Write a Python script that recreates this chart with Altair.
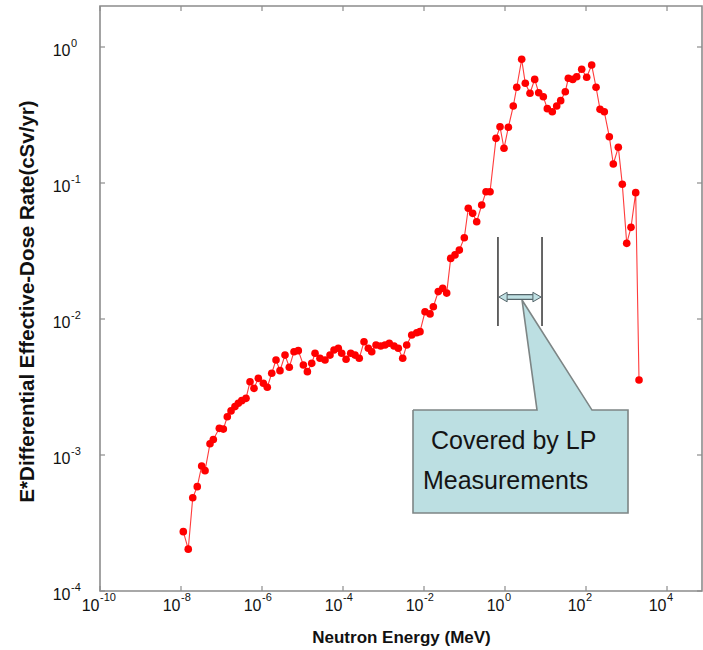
import altair as alt
import pandas as pd

# ---- data ----
energy_mev = [1.14e-8, 1.51e-8, 1.95e-8, 2.52e-8, 3.24e-8, 3.92e-8, 5.20e-8, 6.28e-8, 8.83e-8,
              1.11e-7, 1.39e-7, 1.72e-7, 2.15e-7, 2.60e-7, 3.16e-7, 4.03e-7, 5.06e-7, 6.34e-7, 8.11e-7,
              1.08e-6, 1.35e-6, 1.74e-6, 2.22e-6, 2.78e-6, 3.70e-6, 4.72e-6, 6.17e-6, 7.87e-6,
              1.05e-5, 1.32e-5, 1.69e-5, 2.04e-5, 2.70e-5, 3.60e-5, 4.78e-5, 6.00e-5, 7.66e-5, 9.29e-5,
              1.19e-4, 1.55e-4, 1.98e-4, 2.52e-4, 3.30e-4, 4.22e-4, 5.12e-4, 6.53e-4, 8.53e-4,
              1.09e-3, 1.39e-3, 1.82e-3, 2.32e-3, 2.98e-3, 3.74e-3, 4.97e-3, 6.61e-3, 7.96e-3,
              1.06e-2, 1.41e-2, 1.70e-2, 2.25e-2, 2.90e-2, 3.63e-2, 4.56e-2, 5.82e-2, 7.45e-2, 9.89e-2,
              0.124, 0.159, 0.200, 0.266, 0.340, 0.427, 0.600, 0.753, 0.944,
              1.21, 1.60, 1.95, 2.58, 3.17, 4.14, 5.41, 6.79, 8.83,
              11.1, 14.7, 18.9, 23.7, 30.8, 36.6, 47.0, 58.9, 78.3,
              104, 138, 177, 222, 283, 376, 472, 628, 787,
              1012, 1291, 1687, 2037]
dose_rate = [2.73e-4, 2.03e-4, 4.85e-4, 5.85e-4, 8.30e-4, 7.67e-4, 1.21e-3, 1.30e-3, 1.57e-3,
             1.55e-3, 1.91e-3, 2.11e-3, 2.27e-3, 2.40e-3, 2.51e-3, 2.61e-3, 3.46e-3, 3.09e-3, 3.66e-3,
             3.37e-3, 3.15e-3, 3.99e-3, 5.00e-3, 4.17e-3, 5.43e-3, 4.42e-3, 5.75e-3, 5.85e-3,
             4.59e-3, 4.10e-3, 4.72e-3, 5.60e-3, 5.14e-3, 5.00e-3, 5.43e-3, 5.92e-3, 6.09e-3, 5.60e-3,
             5.06e-3, 5.60e-3, 5.43e-3, 5.14e-3, 6.81e-3, 6.09e-3, 5.75e-3, 6.44e-3, 6.33e-3,
             6.44e-3, 6.63e-3, 6.33e-3, 6.09e-3, 5.14e-3, 6.44e-3, 7.63e-3, 7.93e-3, 8.07e-3,
             1.13e-2, 1.09e-2, 1.23e-2, 1.59e-2, 1.68e-2, 1.55e-2, 2.79e-2, 2.96e-2, 3.21e-2, 3.96e-2,
             6.52e-2, 5.98e-2, 5.19e-2, 6.89e-2, 8.63e-2, 8.63e-2, 0.213, 0.259, 0.180,
             0.257, 0.368, 0.506, 0.812, 0.541, 0.457, 0.578, 0.461, 0.431,
             0.352, 0.334, 0.368, 0.403, 0.469, 0.589, 0.578, 0.605, 0.686,
             0.599, 0.737, 0.506, 0.348, 0.334, 0.219, 0.138, 0.183, 0.0978,
             0.0360, 0.0472, 0.0849, 3.56e-3]

x_tick_exponents = [-10, -8, -6, -4, -2, 0, 2, 4]
y_tick_exponents = [-4, -3, -2, -1, 0]
tick_base = "10"

# LP measurement bracket (energy in MeV, dose-rate span)
lp_energy = [0.67, 8.2]
lp_dose_span = [0.0089, 0.040]
arrow_energy = [0.893, 6.17]
arrow_dose = 0.0145

# callout outline (energy, dose) in drawing order
callout_energy = [5.35e-3, 6.17, 2.63, 140.6, 1089, 1089, 5.35e-3, 5.35e-3]
callout_dose = [2.14e-3, 2.14e-3, 0.0138, 2.14e-3, 2.14e-3, 3.75e-4, 3.75e-4, 2.14e-3]
note_lines = ["Covered by LP", "Measurements"]
note_energy = [0.0149, 9.44e-3]
note_dose = [1.27e-3, 6.44e-4]

FONT = "Liberation Sans"
W, H = 602, 585
xs = alt.Scale(type="log", domain=[1e-10, 10 ** 4.864], nice=False)
ys = alt.Scale(type="log", domain=[1e-4, 10 ** 0.3015], nice=False)

x_axis = alt.Axis(values=[10.0 ** e for e in x_tick_exponents], labelExpr=f"'{tick_base}'",
                  title="Neutron Energy (MeV)", ticks=False, domain=False, grid=False,
                  labelFont=FONT, labelFontSize=16, labelColor="#111", labelPadding=6,
                  labelAlign="right", labelOffset=-1,
                  labelFlush=False, labelOverlap=False, labelBound=False,
                  titleFont=FONT, titleFontSize=17, titleFontWeight="bold", titleColor="#111",
                  titleY=38, titleBaseline="top")
y_axis = alt.Axis(values=[10.0 ** e for e in y_tick_exponents], labelExpr=f"'{tick_base}'",
                  title="E*Differential Effective-Dose Rate(cSv/yr)", ticks=False, domain=False, grid=False,
                  labelFont=FONT, labelFontSize=16, labelColor="#111", labelPadding=30,
                  labelAlign="right", labelBaseline="middle", labelOffset=3,
                  labelFlush=False, labelOverlap=False, labelBound=False,
                  titleFont=FONT, titleFontSize=20.5, titleFontWeight="bold", titleColor="#111",
                  titleX=-63, titleY=295, titleBaseline="bottom", titleAlign="center")


def X(field):
    return alt.X(field, scale=xs, axis=x_axis)


def Y(field):
    return alt.Y(field, scale=ys, axis=y_axis)


df = pd.DataFrame({"E": energy_mev, "D": dose_rate, "i": range(len(energy_mev))})

line = alt.Chart(df).mark_line(color="#ff3b3b", strokeWidth=1.1).encode(
    x=X("E:Q"), y=Y("D:Q"), order="i:Q")
pts = alt.Chart(df).mark_circle(color="#ff0000", size=58, opacity=1).encode(
    x=X("E:Q"), y=Y("D:Q"))

# inward tick marks on all four sides, plus the exponent parts of the tick labels
xt = pd.DataFrame({"v": [10.0 ** e for e in x_tick_exponents], "e": [str(e) for e in x_tick_exponents]})
yt = pd.DataFrame({"v": [10.0 ** e for e in y_tick_exponents], "e": [str(e) for e in y_tick_exponents]})
tick_style = dict(color="#8c8c8c", strokeWidth=1.2)
tb = alt.Chart(xt).mark_rule(**tick_style).encode(x=X("v:Q"), y=alt.value(H), y2=alt.value(H - 5))
tt = alt.Chart(xt).mark_rule(**tick_style).encode(x=X("v:Q"), y=alt.value(0), y2=alt.value(5))
tl = alt.Chart(yt).mark_rule(**tick_style).encode(y=Y("v:Q"), x=alt.value(0), x2=alt.value(5))
tr = alt.Chart(yt).mark_rule(**tick_style).encode(y=Y("v:Q"), x=alt.value(W), x2=alt.value(W - 5))

x_exp = alt.Chart(xt).mark_text(font=FONT, fontSize=11, color="#111", align="left",
                                baseline="middle", dx=0).encode(
    x=X("v:Q"), y=alt.value(H + 7), text="e:N")
y_exp = alt.Chart(yt).mark_text(font=FONT, fontSize=11, color="#111", align="left",
                                baseline="middle", dy=-3).encode(
    y=Y("v:Q"), x=alt.value(-29), text="e:N")

# LP bracket
br = pd.DataFrame({"E": lp_energy, "d0": [lp_dose_span[0]] * 2, "d1": [lp_dose_span[1]] * 2})
bracket = alt.Chart(br).mark_rule(color="#000000", strokeWidth=1.2).encode(
    x=X("E:Q"), y=Y("d0:Q"), y2="d1:Q")

ar = pd.DataFrame({"E0": [arrow_energy[0]], "E1": [arrow_energy[1]], "D": [arrow_dose]})
shaft_out = alt.Chart(ar).mark_rule(color="#55656a", strokeWidth=6).encode(
    x=X("E0:Q"), x2="E1:Q", y=Y("D:Q"))
shaft_in = alt.Chart(ar).mark_rule(color="#bfe0e3", strokeWidth=3.5).encode(
    x=X("E0:Q"), x2="E1:Q", y=Y("D:Q"))
head_l = alt.Chart(ar).mark_point(shape="triangle-left", filled=True, fill="#bfe0e3",
                                  stroke="#55656a", strokeWidth=1, size=90, opacity=1).encode(
    x=X("E0:Q"), y=Y("D:Q"))
head_r = alt.Chart(ar).mark_point(shape="triangle-right", filled=True, fill="#bfe0e3",
                                  stroke="#55656a", strokeWidth=1, size=90, opacity=1).encode(
    x=X("E1:Q"), y=Y("D:Q"))

co = pd.DataFrame({"E": callout_energy, "D": callout_dose, "i": range(len(callout_energy))})
callout = alt.Chart(co).mark_line(fill="#bcdfe2", stroke="#7d8585", strokeWidth=1.6,
                                  fillOpacity=1, interpolate="linear").encode(
    x=X("E:Q"), y=Y("D:Q"), order="i:Q")

nt = pd.DataFrame({"t": note_lines, "E": note_energy, "D": note_dose})
note = alt.Chart(nt).mark_text(font=FONT, fontSize=25, color="#141414", align="left",
                               baseline="middle").encode(
    x=X("E:Q"), y=Y("D:Q"), text="t:N")

chart = alt.layer(
    line, pts, tb, tt, tl, tr, x_exp, y_exp, bracket, callout, shaft_out, shaft_in, head_l, head_r, note
).properties(
    width=W, height=H,
    autosize=alt.AutoSizeParams(type="none"),
    padding={"left": 100, "top": 6, "right": 1, "bottom": 59},
    background="white",
).configure_view(stroke="#8c8c8c", strokeWidth=1.6)

chart.save("out.html", embed_options={"renderer": "svg", "actions": False})
